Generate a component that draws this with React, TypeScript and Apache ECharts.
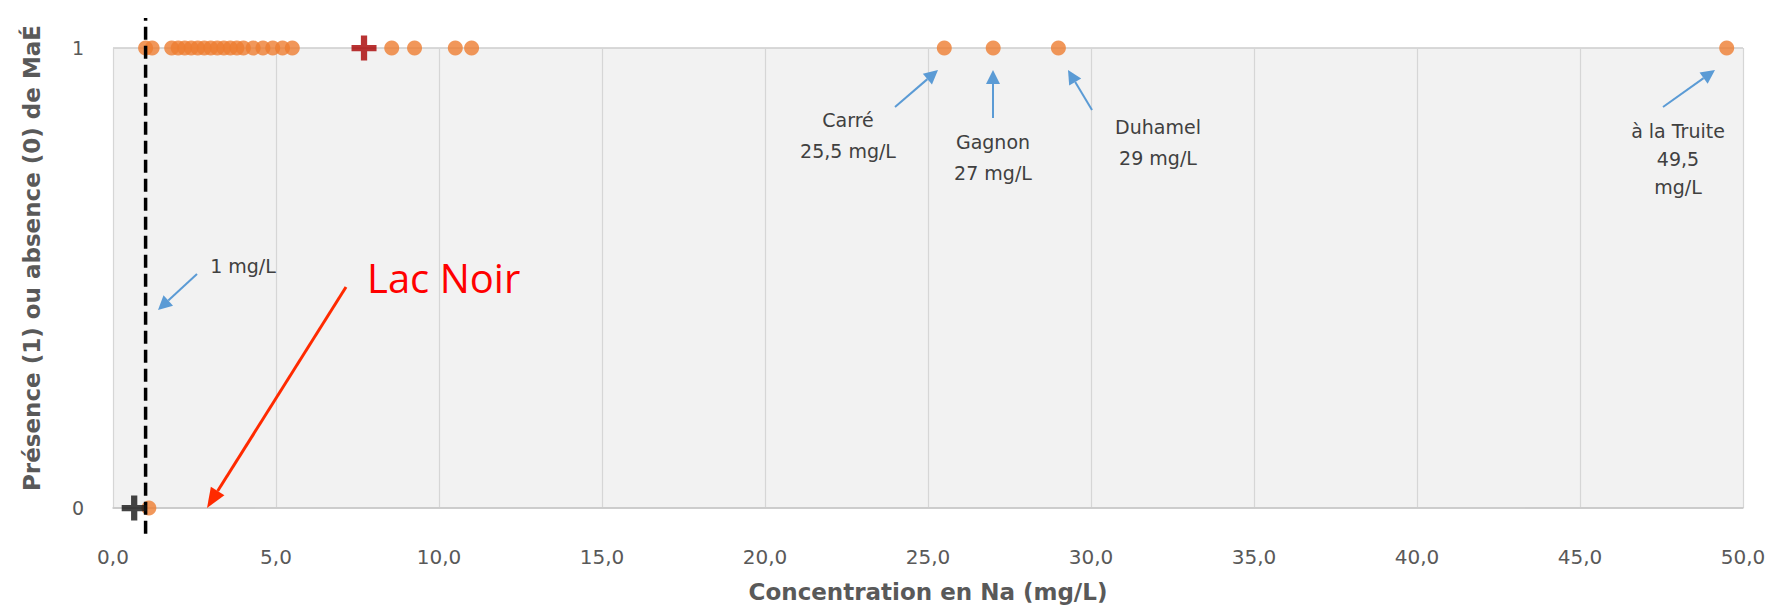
import React, { useEffect, useRef } from "react";
import * as echarts from "echarts";

// Concentration en Na (mg/L) of lakes with presence (1) of MaÉ
const presenceX = [1.0, 1.2, 1.8, 2.0, 2.2, 2.4, 2.6, 2.8, 3.0, 3.2, 3.4, 3.6, 3.8, 4.0, 4.3, 4.6, 4.9, 5.2, 5.5, 8.55, 9.25, 10.5, 11.0, 25.5, 27.0, 29.0, 49.5];
// lakes with absence (0)
const absenceX = [1.1];
// highlighted lakes (crosses)
const redCrossX = [7.7];
const redCrossY = [1];
const blackCrossX = [0.65];
const blackCrossY = [0];
// threshold line (1 mg/L)
const thresholdX = 1;
const thresholdY = [-0.056, 1.065];

const xTicks = [0, 5, 10, 15, 20, 25, 30, 35, 40, 45, 50];
const yTicks = [0, 1];

const CROSS = "path://M9,0H15V9H24V15H15V24H9V15H0V9H9Z";
const BLUE = "#5b9bd5";
const TXT = "#404040";
const FONT = '19px "DejaVu Sans", sans-serif';

function arrow(x1: number, y1: number, x2: number, y2: number, color: string, w: number, hl: number, hw: number) {
  const dx = x2 - x1;
  const dy = y2 - y1;
  const len = Math.sqrt(dx * dx + dy * dy);
  const ux = dx / len;
  const uy = dy / len;
  const bx = x2 - ux * hl;
  const by = y2 - uy * hl;
  const px = -uy * hw;
  const py = ux * hw;
  return [
    { type: "line", shape: { x1, y1, x2: bx, y2: by }, style: { stroke: color, lineWidth: w }, z: 100 },
    {
      type: "polygon",
      shape: { points: [[x2, y2], [bx + px, by + py], [bx - px, by - py]] },
      style: { fill: color },
      z: 100,
    },
  ];
}

function label(text: string, x: number, y: number, lineHeight: number) {
  return {
    type: "text",
    z: 100,
    style: { text, x, y, fill: TXT, font: FONT, align: "center", verticalAlign: "middle", lineHeight },
  };
}

export default function App() {
  const ref = useRef<HTMLDivElement>(null);
  useEffect(() => {
    if (!ref.current) return;
    const chart = echarts.init(ref.current, undefined, { renderer: "svg" });
    const graphics: any[] = [
      label("1 mg/L", 243, 266, 22),
      ...arrow(197, 274, 158, 310, BLUE, 2, 14, 7),
      label("Carré\n25,5 mg/L", 848, 135, 31),
      ...arrow(895, 107, 938, 70, BLUE, 2, 14, 7),
      label("Gagnon\n27 mg/L", 993, 157, 31),
      ...arrow(993, 118, 993, 70, BLUE, 2, 14, 7),
      label("Duhamel\n29 mg/L", 1158, 142, 31),
      ...arrow(1092, 110, 1068, 70, BLUE, 2, 14, 7),
      label("à la Truite\n49,5\nmg/L", 1678, 159, 28),
      ...arrow(1663, 107, 1715, 70, BLUE, 2, 14, 7),
      {
        type: "text",
        z: 100,
        style: {
          text: "Lac Noir",
          x: 367,
          y: 277,
          fill: "#ff0000",
          font: '40px "Open Sans", sans-serif',
          align: "left",
          verticalAlign: "middle",
        },
      },
      ...arrow(346, 287, 207, 508, "#ff2a00", 3, 20, 8),
    ];
    chart.setOption({
      animation: false,
      backgroundColor: "#ffffff",
      grid: {
        left: 113,
        right: 34,
        top: 48,
        bottom: 99,
        show: true,
        backgroundColor: "#f2f2f2",
        borderWidth: 0,
      },
      xAxis: {
        type: "value",
        min: xTicks[0],
        max: xTicks[xTicks.length - 1],
        interval: 5,
        name: "Concentration en Na (mg/L)",
        nameLocation: "middle",
        nameGap: 72,
        nameTextStyle: { color: "#595959", fontSize: 23, fontWeight: "bold", fontFamily: "DejaVu Sans" },
        axisLine: { show: true, lineStyle: { color: "#c8c8c8", width: 1.5 } },
        axisTick: { show: false },
        axisLabel: {
          margin: 39,
          color: "#595959",
          fontSize: 20,
          fontFamily: "DejaVu Sans",
          formatter: (v: number) => v.toFixed(1).replace(".", ","),
        },
        splitLine: { show: true, lineStyle: { color: "#d6d6d6", width: 1.2 } },
      },
      yAxis: {
        type: "value",
        min: yTicks[0],
        max: yTicks[yTicks.length - 1],
        interval: 1,
        name: "Présence (1) ou absence (0) de MaÉ",
        nameLocation: "middle",
        nameRotate: 90,
        nameGap: 70,
        nameTextStyle: {
          color: "#595959",
          fontSize: 23,
          fontWeight: "bold",
          fontFamily: "DejaVu Sans",
          padding: [0, 0, 0, 40],
        },
        axisLine: { show: false },
        axisTick: { show: false },
        axisLabel: { margin: 29, color: "#595959", fontSize: 19, fontFamily: "DejaVu Sans" },
        splitLine: { show: true, lineStyle: { color: "#cccccc", width: 1.5 } },
      },
      series: [
        {
          type: "scatter",
          name: "Présence",
          data: presenceX.map((x) => [x, 1]),
          symbol: "circle",
          symbolSize: 15,
          itemStyle: { color: "#ee7d31" },
          clip: false,
          z: 3,
        },
        {
          type: "scatter",
          name: "Absence",
          data: absenceX.map((x) => [x, 0]),
          symbol: "circle",
          symbolSize: 15,
          itemStyle: { color: "#ee7d31" },
          clip: false,
          z: 3,
        },
        {
          type: "line",
          name: "Seuil",
          data: thresholdY.map((y) => [thresholdX, y]),
          symbol: "none",
          clip: false,
          lineStyle: { color: "#000000", width: 3.5, type: [13, 6] },
          z: 5,
        },
        {
          type: "scatter",
          name: "Rouge",
          data: redCrossX.map((x, i) => [x, redCrossY[i]]),
          symbol: CROSS,
          symbolSize: 25,
          itemStyle: { color: "#a80000" },
          clip: false,
          z: 6,
        },
        {
          type: "scatter",
          name: "Lac Noir",
          data: blackCrossX.map((x, i) => [x, blackCrossY[i]]),
          symbol: CROSS,
          symbolSize: 25,
          itemStyle: { color: "#141414" },
          clip: false,
          z: 6,
        },
      ],
      graphic: graphics,
    });
    return () => chart.dispose();
  }, []);
  return <div ref={ref} style={{ position: "fixed", left: 0, top: 0, width: 1777, height: 608 }} />;
}
